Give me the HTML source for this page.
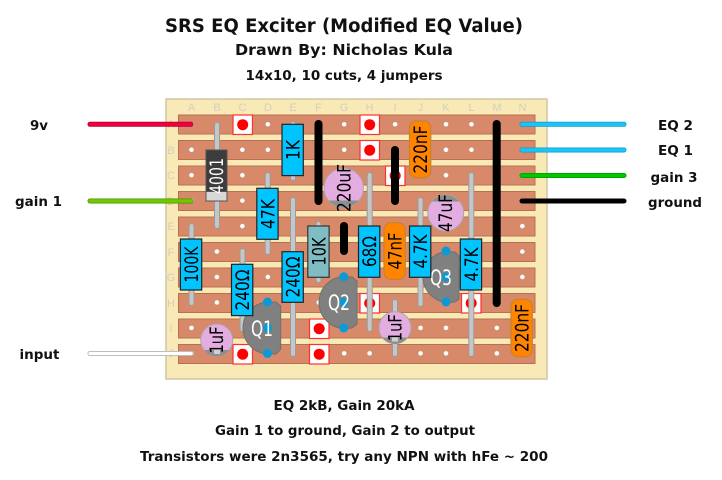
<!DOCTYPE html>
<html><head><meta charset="utf-8"><style>
html,body{margin:0;padding:0;background:#fff}
svg{display:block}
text{font-family:"DejaVu Sans",sans-serif}
.t{font-weight:bold;fill:#111;text-anchor:middle;font-size:13.5px}
.g{font-family:"Liberation Sans",sans-serif;font-size:11px;fill:#d2d0bc;text-anchor:middle}
.c{font-size:18.5px;fill:#000;text-anchor:middle}
.wire{stroke-linecap:round;fill:none}
.jump{stroke:#000;stroke-width:8;stroke-linecap:round}
.res{fill:#00c4ff;stroke:#222;stroke-width:1.2}
.cap{fill:#ff8400;stroke:#c8822e;stroke-width:1.2}
.el{fill:#e4ade2;stroke:#a8a8a8;stroke-width:1}
.pad{fill:#fff;stroke:#ff3030;stroke-width:1.2}
.dot{fill:#f00}
.q{fill:#808080;stroke:#707070;stroke-width:1}
.qt{font-size:21px;fill:#fff;text-anchor:middle}
.pin{fill:#0a9bd6}
</style></head><body>
<svg width="722" height="480" viewBox="0 0 722 480" xmlns="http://www.w3.org/2000/svg">
<defs>
<pattern id="h" patternUnits="userSpaceOnUse" x="178.77" y="111.57" width="25.45" height="25.45">
<circle cx="12.72" cy="12.72" r="2.8" fill="#fff" stroke="#c98d6e" stroke-width="1"/>
</pattern>
<g id="L" stroke-linecap="round">
<line x1="217" y1="125" x2="217" y2="226"/>
<line x1="293" y1="124" x2="293" y2="178"/>
<line x1="267.7" y1="175" x2="267.7" y2="252"/>
<line x1="293" y1="200" x2="293" y2="354"/>
<line x1="318.5" y1="224" x2="318.5" y2="280"/>
<line x1="191.5" y1="226" x2="191.5" y2="303"/>
<line x1="242.5" y1="251" x2="242.5" y2="329"/>
<line x1="369.7" y1="175" x2="369.7" y2="329"/>
<line x1="420.5" y1="200" x2="420.5" y2="304"/>
<line x1="471.3" y1="175" x2="471.3" y2="354"/>
<line x1="395" y1="302" x2="395" y2="354"/>
<line x1="217" y1="328" x2="217" y2="354"/>
</g>
</defs>

<text class="t" x="344" y="32" style="font-size:18.5px" textLength="358" lengthAdjust="spacingAndGlyphs">SRS EQ Exciter (Modified EQ Value)</text>
<text class="t" x="344" y="55" style="font-size:14.7px" textLength="218" lengthAdjust="spacingAndGlyphs">Drawn By: Nicholas Kula</text>
<text class="t" x="344" y="80" textLength="197" lengthAdjust="spacingAndGlyphs">14x10, 10 cuts, 4 jumpers</text>

<rect x="166" y="99" width="381" height="280" fill="#f9e9b6" stroke="#cfc79f" stroke-width="1.5"/>

<g class="g">
<text class="g" x="191.5" y="111">A</text><text class="g" x="217" y="111">B</text><text class="g" x="242.5" y="111">C</text><text class="g" x="268" y="111">D</text><text class="g" x="293" y="111">E</text><text class="g" x="318.5" y="111">F</text><text class="g" x="344" y="111">G</text><text class="g" x="369.5" y="111">H</text><text class="g" x="395" y="111">I</text><text class="g" x="420.5" y="111">J</text><text class="g" x="446" y="111">K</text><text class="g" x="471.5" y="111">L</text><text class="g" x="497" y="111">M</text><text class="g" x="522.5" y="111">N</text>
<text class="g" x="171" y="128">A</text><text class="g" x="171" y="154">B</text><text class="g" x="171" y="179">C</text><text class="g" x="171" y="205">D</text><text class="g" x="171" y="230">E</text><text class="g" x="171" y="256">F</text><text class="g" x="171" y="281">G</text><text class="g" x="171" y="307">H</text><text class="g" x="171" y="332">I</text><text class="g" x="171" y="357">J</text>
</g>

<g fill="#d8896a" stroke="#b8714f" stroke-width="1">
<rect x="178.5" y="115" width="356.5" height="19"/>
<rect x="178.5" y="140.5" width="356.5" height="19"/>
<rect x="178.5" y="166" width="356.5" height="19"/>
<rect x="178.5" y="191.5" width="356.5" height="19"/>
<rect x="178.5" y="217" width="356.5" height="19"/>
<rect x="178.5" y="242.5" width="356.5" height="19"/>
<rect x="178.5" y="268" width="356.5" height="19"/>
<rect x="178.5" y="293.5" width="356.5" height="19"/>
<rect x="178.5" y="319" width="356.5" height="19"/>
<rect x="178.5" y="344.5" width="356.5" height="19"/>
</g>
<rect x="179" y="112" width="356" height="254" fill="url(#h)"/>

<!-- cuts -->
<g class="pad">
<rect x="233" y="115" width="19.5" height="19.5"/><rect x="360" y="115" width="19.5" height="19.5"/><rect x="360" y="140.5" width="19.5" height="19.5"/><rect x="385.5" y="166" width="19.5" height="19.5"/><rect x="360" y="293.5" width="19.5" height="19.5"/><rect x="461.5" y="293.5" width="19.5" height="19.5"/><rect x="309.5" y="319" width="19.5" height="19.5"/><rect x="233" y="344.5" width="19.5" height="19.5"/><rect x="309.5" y="344.5" width="19.5" height="19.5"/>
</g>
<g class="dot">
<circle cx="242.7" cy="124.7" r="5.5"/><circle cx="369.7" cy="124.7" r="5.5"/><circle cx="369.7" cy="150.2" r="5.5"/><circle cx="395.2" cy="175.7" r="5.5"/><circle cx="369.7" cy="303.2" r="5.5"/><circle cx="471.2" cy="303.2" r="5.5"/><circle cx="319.2" cy="328.7" r="5.5"/><circle cx="242.7" cy="354.2" r="5.5"/><circle cx="319.2" cy="354.2" r="5.5"/>
</g>

<!-- leads -->
<use href="#L" stroke="#9a9a9a" stroke-width="6"/>
<use href="#L" stroke="#c6c6c6" stroke-width="4"/>

<!-- jumpers -->
<line class="jump" x1="318.5" y1="124" x2="318.5" y2="201"/>
<line class="jump" x1="344" y1="226" x2="344" y2="251"/>
<line class="jump" x1="395" y1="150" x2="395" y2="201"/>
<line class="jump" x1="496.7" y1="124" x2="496.7" y2="303"/>

<!-- transistors -->
<path class="q" d="M269 302 L276 302 L280.7 306 V349 L276 354 L269 354 A26 26 0 0 1 269 302Z"/>
<circle class="pin" cx="267.5" cy="302" r="4.5"/><circle class="pin" cx="267.5" cy="328" r="4.5"/><circle class="pin" cx="267.5" cy="353.5" r="4.5"/>
<text class="qt" x="262" y="336" textLength="22" lengthAdjust="spacingAndGlyphs">Q1</text>
<path class="q" d="M345 276.5 L352 277 L357 281 V324 L352 328 L345 328.5 A26 26 0 0 1 345 276.5Z"/>
<circle class="pin" cx="343.7" cy="276.7" r="4.5"/><circle class="pin" cx="343.7" cy="302.5" r="4.5"/><circle class="pin" cx="343.7" cy="328" r="4.5"/>
<text class="qt" x="339" y="310" textLength="22" lengthAdjust="spacingAndGlyphs">Q2</text>
<path class="q" d="M447 251.5 L455 252 L459 256 V299 L455 302 L447 302.5 A26 26 0 0 1 423 277 A26 26 0 0 1 447 251.5Z"/>
<circle class="pin" cx="446" cy="251" r="4.5"/><circle class="pin" cx="446" cy="277" r="4.5"/><circle class="pin" cx="446" cy="302" r="4.5"/>
<text class="qt" x="441" y="285" textLength="22" lengthAdjust="spacingAndGlyphs">Q3</text>

<!-- diode -->
<rect x="206" y="150" width="21" height="51" fill="#3c3c3c" stroke="#555" stroke-width="1"/>
<rect x="206" y="191.5" width="21" height="9.5" fill="#d8d8d8" stroke="#555" stroke-width="1"/>
<text class="c" transform="translate(223,176) rotate(-90)" style="fill:#fff" textLength="36" lengthAdjust="spacingAndGlyphs">4001</text>

<!-- resistors -->
<rect class="res" x="282" y="124.3" width="21.3" height="51.3"/>
<text class="c" transform="translate(299.3,150) rotate(-90)" textLength="20" lengthAdjust="spacingAndGlyphs">1K</text>
<rect class="res" x="256.8" y="188.3" width="21.3" height="51"/>
<text class="c" transform="translate(274.3,214) rotate(-90)" textLength="30" lengthAdjust="spacingAndGlyphs">47K</text>
<rect class="res" x="180.4" y="239" width="21.3" height="51"/>
<text class="c" transform="translate(197.9,264.5) rotate(-90)" textLength="36" lengthAdjust="spacingAndGlyphs">100K</text>
<rect class="res" x="231.5" y="264.3" width="21.3" height="51.3"/>
<text class="c" transform="translate(249,290) rotate(-90)" textLength="41" lengthAdjust="spacingAndGlyphs">240Ω</text>
<rect class="res" x="282" y="251.7" width="21.3" height="50.6"/>
<text class="c" transform="translate(299.3,277) rotate(-90)" textLength="41" lengthAdjust="spacingAndGlyphs">240Ω</text>
<rect x="307.8" y="226" width="21.3" height="51.3" fill="#7fbcc4" stroke="#333" stroke-width="1.2"/>
<text class="c" transform="translate(325.3,251.5) rotate(-90)" textLength="28" lengthAdjust="spacingAndGlyphs">10K</text>
<rect class="res" x="358.5" y="226" width="21.3" height="51.3"/>
<text class="c" transform="translate(376,251.5) rotate(-90)" textLength="31" lengthAdjust="spacingAndGlyphs">68Ω</text>
<rect class="res" x="409.5" y="226" width="21.3" height="51.3"/>
<text class="c" transform="translate(427,251.5) rotate(-90)" textLength="34" lengthAdjust="spacingAndGlyphs">4.7K</text>
<rect class="res" x="460.3" y="239" width="21.3" height="51"/>
<text class="c" transform="translate(477.8,264.5) rotate(-90)" textLength="34" lengthAdjust="spacingAndGlyphs">4.7K</text>

<!-- film caps -->
<rect class="cap" x="409.5" y="121" width="21.3" height="56.7" rx="7"/>
<text class="c" transform="translate(427,149.5) rotate(-90)" textLength="48" lengthAdjust="spacingAndGlyphs">220nF</text>
<rect class="cap" x="384" y="222.7" width="21.3" height="56.7" rx="7"/>
<text class="c" transform="translate(401.5,251) rotate(-90)" textLength="37" lengthAdjust="spacingAndGlyphs">47nF</text>
<rect class="cap" x="511" y="299.3" width="21.3" height="57.4" rx="7"/>
<text class="c" transform="translate(528.5,328) rotate(-90)" textLength="48" lengthAdjust="spacingAndGlyphs">220nF</text>

<!-- electrolytics -->
<circle class="el" cx="343.7" cy="188" r="19.7"/>
<path d="M328.6 200.5 A19.7 19.7 0 0 0 358.8 200.5Z" fill="#8e8e8e"/>
<text class="c" transform="translate(350.3,188) rotate(-90)" textLength="48" lengthAdjust="spacingAndGlyphs">220uF</text>
<circle class="el" cx="445.7" cy="213" r="18"/>
<path d="M432 201.5 A18 18 0 0 1 459.4 201.5Z" fill="#8e8e8e"/>
<text class="c" transform="translate(451.8,213) rotate(-90)" textLength="38" lengthAdjust="spacingAndGlyphs">47uF</text>
<circle class="el" cx="216.7" cy="340" r="16"/>
<path d="M204 350 A16 16 0 0 0 229.4 350Z" fill="#8e8e8e"/>
<rect x="214" y="350" width="6" height="4" fill="#d0d0d0"/>
<text class="c" transform="translate(222.8,340) rotate(-90)" textLength="27" lengthAdjust="spacingAndGlyphs">1uF</text>
<circle class="el" cx="395" cy="327.7" r="16"/>
<path d="M382.3 337.5 A16 16 0 0 0 407.7 337.5Z" fill="#8e8e8e"/>
<rect x="392" y="337.5" width="6" height="4" fill="#d0d0d0"/>
<text class="c" transform="translate(401.3,327.7) rotate(-90)" textLength="27" lengthAdjust="spacingAndGlyphs">1uF</text>

<!-- off-board -->
<line class="wire" stroke="#b0002c" x1="90" y1="124.3" x2="191" y2="124.3" stroke-width="5"/>
<line class="wire" stroke="#f0003c" x1="90" y1="124.3" x2="191" y2="124.3" stroke-width="3.5"/>
<line class="wire" stroke="#4c8f00" x1="90" y1="201" x2="191" y2="201" stroke-width="5"/>
<line class="wire" stroke="#70c800" x1="90" y1="201" x2="191" y2="201" stroke-width="3.5"/>
<line class="wire" stroke="#a8a8a8" x1="90" y1="353.5" x2="191" y2="353.5" stroke-width="5"/>
<line class="wire" stroke="#fff" x1="90" y1="353.5" x2="191" y2="353.5" stroke-width="3.5"/>
<line class="wire" stroke="#0a9bd6" x1="522" y1="124.3" x2="624" y2="124.3" stroke-width="5"/>
<line class="wire" stroke="#1cc4f4" x1="522" y1="124.3" x2="624" y2="124.3" stroke-width="3.5"/>
<line class="wire" stroke="#0a9bd6" x1="522" y1="150" x2="624" y2="150" stroke-width="5"/>
<line class="wire" stroke="#1cc4f4" x1="522" y1="150" x2="624" y2="150" stroke-width="3.5"/>
<line class="wire" stroke="#009a00" x1="522" y1="175.5" x2="624" y2="175.5" stroke-width="5"/>
<line class="wire" stroke="#00c800" x1="522" y1="175.5" x2="624" y2="175.5" stroke-width="3.5"/>
<line class="wire" stroke="#000" x1="522" y1="201" x2="624" y2="201" stroke-width="5"/>

<text class="t" x="39" y="130" textLength="18" lengthAdjust="spacingAndGlyphs">9v</text>
<text class="t" x="38.5" y="206" textLength="47" lengthAdjust="spacingAndGlyphs">gain 1</text>
<text class="t" x="39.5" y="359" textLength="40" lengthAdjust="spacingAndGlyphs">input</text>
<text class="t" x="675.5" y="130" textLength="35" lengthAdjust="spacingAndGlyphs">EQ 2</text>
<text class="t" x="675.5" y="155" textLength="35" lengthAdjust="spacingAndGlyphs">EQ 1</text>
<text class="t" x="674" y="182" textLength="47" lengthAdjust="spacingAndGlyphs">gain 3</text>
<text class="t" x="675" y="207" textLength="54" lengthAdjust="spacingAndGlyphs">ground</text>

<text class="t" x="344" y="410" textLength="141" lengthAdjust="spacingAndGlyphs">EQ 2kB, Gain 20kA</text>
<text class="t" x="345" y="435" textLength="260" lengthAdjust="spacingAndGlyphs">Gain 1 to ground, Gain 2 to output</text>
<text class="t" x="344" y="461" textLength="408" lengthAdjust="spacingAndGlyphs">Transistors were 2n3565, try any NPN with hFe ~ 200</text>
</svg>
</body></html>
